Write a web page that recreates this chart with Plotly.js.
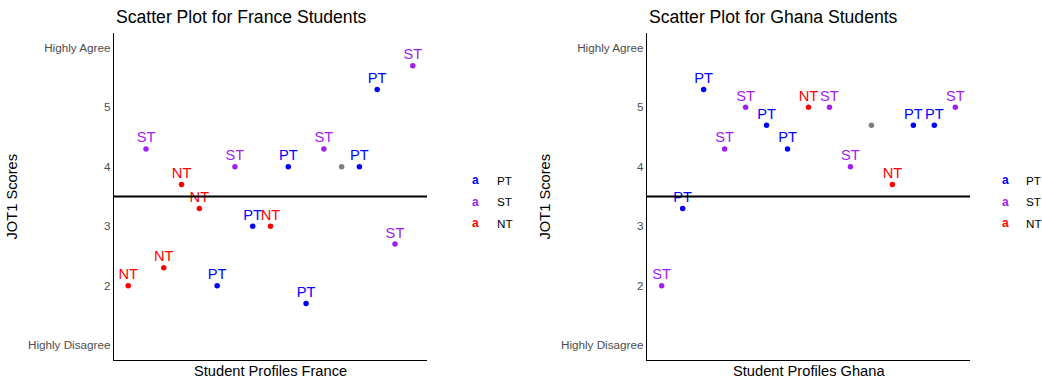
<!DOCTYPE html>
<html>
<head>
<meta charset="utf-8">
<script src="https://cdn.plot.ly/plotly-3.0.1.min.js"></script>
<style>html,body{margin:0;padding:0;background:#fff;}#chart{width:1042px;height:381px;}</style>
</head>
<body>
<div id="chart"></div>
<script>
// ---- data ----
const franceStudents = [1,2,3,4,5,6,7,8,9,10,11,12,13,14,15,16,17];
const franceProfiles = ['NT','ST','NT','NT','NT','PT','ST','PT','NT','PT','PT','ST',null,'PT','PT','ST','ST'];
const franceScores   = [2.0,4.3,2.3,3.7,3.3,2.0,4.0,3.0,3.0,4.0,1.7,4.3,4.0,4.0,5.3,2.7,5.7];

const ghanaStudents = [1,2,3,4,5,6,7,8,9,10,11,12,13,14,15];
const ghanaProfiles = ['ST','PT','PT','ST','ST','PT','PT','NT','ST','ST',null,'NT','PT','PT','ST'];
const ghanaScores   = [2.0,3.3,5.3,4.3,5.0,4.7,4.3,5.0,5.0,4.0,4.7,3.7,4.7,4.7,5.0];

const profileLevels = ['PT','ST','NT'];
const yTickVals = [1,2,3,4,5,6];
const yTickText = ['Highly Disagree','2','3','4','5','Highly Agree'];
const threshold = 3.5;
const labelNudge = 0.17;   // like ggplot nudge_y

const colors = {PT:'#0000FF', ST:'#A020F0', NT:'#FF0000', NA:'#7F7F7F'};
const FONT = 'Liberation Sans, Arial, sans-serif';

function groupTraces(xs, profs, ys, xa, ya) {
  const out = [];
  profileLevels.concat(['NA']).forEach(g => {
    const gx = [], gy = [], gt = [];
    xs.forEach((x, i) => {
      const p = profs[i] === null ? 'NA' : profs[i];
      if (p === g) { gx.push(x); gy.push(ys[i]); gt.push(g); }
    });
    out.push({
      type: 'scatter', mode: 'markers', x: gx, y: gy,
      marker: {color: colors[g], size: 5.5},
      xaxis: xa, yaxis: ya, showlegend: false, hoverinfo: 'skip', cliponaxis: false
    });
    if (g !== 'NA') {
      out.push({
        type: 'scatter', mode: 'text', x: gx, y: gy.map(v => v + labelNudge), text: gt,
        textposition: 'middle center',
        textfont: {family: FONT, size: 14.67, color: colors[g]},
        xaxis: xa, yaxis: ya, showlegend: false, hoverinfo: 'skip', cliponaxis: false
      });
    }
  });
  return out;
}

const data = groupTraces(franceStudents, franceProfiles, franceScores, 'x', 'y')
  .concat(groupTraces(ghanaStudents, ghanaProfiles, ghanaScores, 'x2', 'y2'));

const FIG_W = 1042, PLOT_TOP = 33, PLOT_BOTTOM = 360, PLOT_H = PLOT_BOTTOM - PLOT_TOP;
const py = px => (PLOT_BOTTOM - px) / PLOT_H;
const pxX = px => px / FIG_W;

function yAxis(anchor) {
  return {
    anchor: anchor, range: [0.75, 6.25], tickvals: yTickVals, ticktext: yTickText,
    showgrid: false, zeroline: false, showline: true, linecolor: '#000', linewidth: 1.2,
    ticks: '', tickfont: {family: FONT, size: 11.7, color: '#4D4D4D'}, ticklabelstandoff: 0
  };
}
function xAxis(anchor, domain, range) {
  return {
    anchor: anchor, domain: domain, range: range, showgrid: false, zeroline: false,
    showline: true, linecolor: '#000', linewidth: 1.2, showticklabels: false, ticks: ''
  };
}

const annotations = [];
function panelText(title, xtitle, axisLeft, axisRight, legendKeyX, legendLabelX) {
  annotations.push({xref:'paper', yref:'paper', x: pxX(axisLeft), y: py(17), xanchor:'left', yanchor:'middle',
    text: title, showarrow:false, font:{family:FONT, size:17.6, color:'#000'}});
  annotations.push({xref:'paper', yref:'paper', x: pxX((axisLeft+axisRight)/2), y: py(371), xanchor:'center', yanchor:'middle',
    text: xtitle, showarrow:false, font:{family:FONT, size:14.67, color:'#000'}});
  annotations.push({xref:'paper', yref:'paper', x: pxX(axisLeft-103), y: 0.5, xanchor:'center', yanchor:'middle',
    text: 'JOT1 Scores', textangle:-90, showarrow:false, font:{family:FONT, size:14.67, color:'#000'}});
  const legY = [180, 201.5, 223];
  profileLevels.forEach((g, i) => {
    annotations.push({xref:'paper', yref:'paper', x: pxX(legendKeyX), y: py(legY[i]), xanchor:'center', yanchor:'middle',
      text: '<b>a</b>', showarrow:false, font:{family:FONT, size:12, color:colors[g]}});
    annotations.push({xref:'paper', yref:'paper', x: pxX(legendLabelX), y: py(legY[i]), xanchor:'left', yanchor:'middle',
      text: g, showarrow:false, font:{family:FONT, size:11.7, color:'#000'}});
  });
}
panelText('Scatter Plot for France Students', 'Student Profiles France', 114, 427, 475.5, 495);
panelText('Scatter Plot for Ghana Students', 'Student Profiles Ghana', 647, 970, 1005, 1024);

const shapes = [
  {type:'line', xref:'x domain', yref:'y', x0:0, x1:1, y0:threshold, y1:threshold, line:{color:'#000', width:2}},
  {type:'line', xref:'x2 domain', yref:'y2', x0:0, x1:1, y0:threshold, y1:threshold, line:{color:'#000', width:2}}
];

const layout = {
  width: FIG_W, height: 381,
  margin: {l: 0, r: 0, t: PLOT_TOP, b: 381 - PLOT_BOTTOM, pad: 0},
  paper_bgcolor: '#fff', plot_bgcolor: '#fff',
  showlegend: false,
  font: {family: FONT},
  xaxis: xAxis('y', [114/FIG_W, 427/FIG_W], [0.2, 17.8]),
  yaxis: yAxis('x'),
  xaxis2: xAxis('y2', [647/FIG_W, 970/FIG_W], [0.3, 15.7]),
  yaxis2: yAxis('x2'),
  annotations: annotations,
  shapes: shapes
};

Plotly.newPlot('chart', data, layout, {displayModeBar: false, staticPlot: true});
</script>
</body>
</html>
